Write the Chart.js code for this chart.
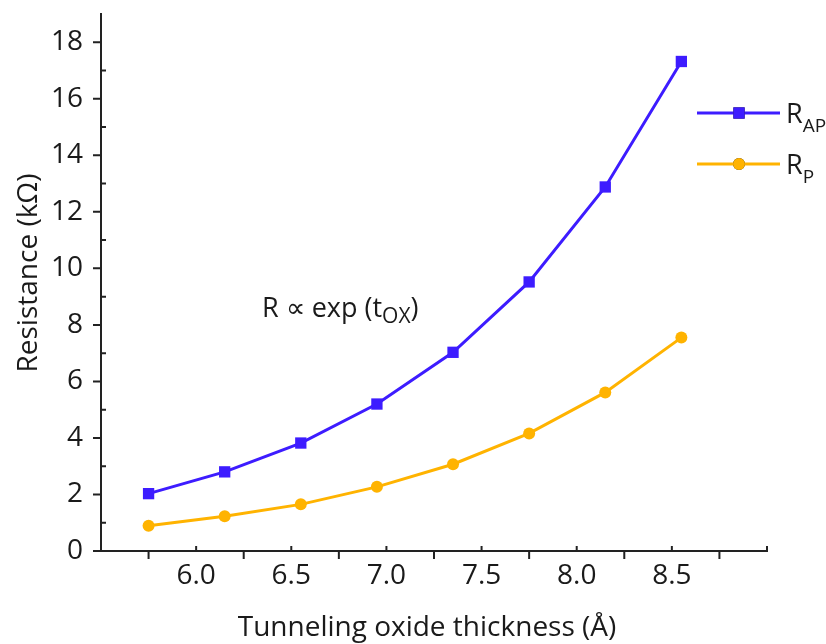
<!DOCTYPE html>
<html>
<head>
<meta charset="utf-8">
<script src="https://cdn.jsdelivr.net/npm/chart.js@4"></script>
<style>html,body{margin:0;padding:0;background:#fff;}</style>
</head>
<body>
<canvas id="myChart" width="826" height="644"></canvas>
<script>
var thickness = [5.75, 6.15, 6.55, 6.95, 7.35, 7.75, 8.15, 8.55];
var rAP = [2.03, 2.80, 3.82, 5.20, 7.03, 9.52, 12.88, 17.32];
var rP = [0.89, 1.23, 1.65, 2.27, 3.07, 4.16, 5.61, 7.55];
var xTicks = [6.0, 6.5, 7.0, 7.5, 8.0, 8.5];
var xMinor = [5.75, 6.25, 6.75, 7.25, 7.75, 8.25, 8.75];
var yTicks = [0, 2, 4, 6, 8, 10, 12, 14, 16, 18];
var yMinor = [1, 3, 5, 7, 9, 11, 13, 15, 17];

var blue = '#3d1cff';
var orange = '#ffb300';
var ink = '#1a1a1a';
var font = "'Open Sans', sans-serif";

function pts(ys) {
  return thickness.map(function (x, i) { return { x: x, y: ys[i] }; });
}

// tick marks, titles, legend and note
var extras = {
  id: 'extras',
  afterDraw: function (chart) {
    var ctx = chart.ctx, xs = chart.scales.x, ys = chart.scales.y, a = chart.chartArea;
    ctx.save();
    ctx.strokeStyle = '#222';
    ctx.lineWidth = 2;
    ctx.beginPath();
    yTicks.forEach(function (v) { var y = ys.getPixelForValue(v); ctx.moveTo(a.left, y); ctx.lineTo(a.left - 8, y); });
    yMinor.forEach(function (v) { var y = ys.getPixelForValue(v); ctx.moveTo(a.left, y); ctx.lineTo(a.left + 5, y); });
    xTicks.concat([9.0]).forEach(function (v) { var x = xs.getPixelForValue(v); ctx.moveTo(x, a.bottom); ctx.lineTo(x, a.bottom - 5); });
    xMinor.forEach(function (v) { var x = xs.getPixelForValue(v); ctx.moveTo(x, a.bottom); ctx.lineTo(x, a.bottom + 8); });
    ctx.stroke();

    ctx.fillStyle = ink;
    ctx.textBaseline = 'alphabetic';
    ctx.font = '28px ' + font;
    ctx.textAlign = 'center';
    ctx.fillText('Tunneling oxide thickness (Å)', 427, 636);
    ctx.save();
    ctx.translate(37, 273);
    ctx.rotate(-Math.PI / 2);
    ctx.fillText('Resistance (kΩ)', 0, 0);
    ctx.restore();

    // note
    ctx.textAlign = 'left';
    ctx.font = '27px ' + font;
    var x0 = 262, yb = 317;
    ctx.fillText('R \u221D exp (t', x0, yb);
    x0 += ctx.measureText('R \u221D exp (t').width;
    ctx.font = '21px ' + font;
    ctx.fillText('OX', x0, yb + 6);
    x0 += ctx.measureText('OX').width;
    ctx.font = '27px ' + font;
    ctx.fillText(')', x0, yb);

    // legend
    var items = [
      { ds: chart.data.datasets[0], y: 113, sub: 'AP' },
      { ds: chart.data.datasets[1], y: 164, sub: 'P' }
    ];
    items.forEach(function (it) {
      ctx.strokeStyle = it.ds.borderColor;
      ctx.lineWidth = 3;
      ctx.beginPath();
      ctx.moveTo(697, it.y);
      ctx.lineTo(780, it.y);
      ctx.stroke();
      Chart.helpers.drawPoint(ctx, {
        pointStyle: it.ds.pointStyle, radius: it.ds.pointRadius, borderWidth: 0
      }, 739, it.y);
      ctx.fillStyle = it.ds.backgroundColor;
      ctx.fill();
      ctx.fillStyle = ink;
      ctx.font = '27px ' + font;
      ctx.fillText('R', 786, it.y + 10);
      var w = ctx.measureText('R').width;
      ctx.font = '19px ' + font;
      ctx.fillText(it.sub, 786 + w, it.y + 19);
    });
    ctx.restore();
  }
};

var ctx = document.getElementById('myChart').getContext('2d');
var myChart = new Chart(ctx, {
  type: 'line',
  data: {
    datasets: [{
      label: 'RAP',
      data: pts(rAP),
      borderColor: blue,
      backgroundColor: blue,
      borderWidth: 3,
      pointStyle: 'rect',
      pointRadius: 8,
      pointBorderWidth: 0,
      tension: 0
    }, {
      label: 'RP',
      data: pts(rP),
      borderColor: orange,
      backgroundColor: orange,
      borderWidth: 3,
      pointStyle: 'circle',
      pointRadius: 6,
      pointBorderWidth: 0,
      tension: 0
    }]
  },
  options: {
    responsive: false,
    animation: false,
    layout: { padding: { top: 14, right: 59, left: 0, bottom: 0 } },
    plugins: { legend: { display: false }, tooltip: { enabled: false } },
    scales: {
      x: {
        type: 'linear',
        min: 5.5,
        max: 9.0,
        grid: { display: false, drawTicks: false },
        border: { display: true, color: '#222', width: 2 },
        afterBuildTicks: function (s) { s.ticks = xTicks.map(function (v) { return { value: v }; }); },
        afterFit: function (s) { s.height = 93; s.paddingLeft = 0; s.paddingRight = 0; },
        ticks: {
          autoSkip: false,
          maxRotation: 0,
          padding: 8,
          color: ink,
          font: { family: font, size: 28 },
          callback: function (v) { return v.toFixed(1); }
        }
      },
      y: {
        min: 0,
        max: 19,
        grid: { display: false, drawTicks: false },
        border: { display: true, color: '#222', width: 2 },
        afterBuildTicks: function (s) { s.ticks = yTicks.map(function (v) { return { value: v }; }); },
        afterFit: function (s) { s.width = 101; s.paddingTop = 0; s.paddingBottom = 0; },
        ticks: {
          autoSkip: false,
          padding: 18,
          color: ink,
          font: { family: font, size: 28 }
        }
      }
    }
  },
  plugins: [extras]
});
</script>
</body>
</html>
